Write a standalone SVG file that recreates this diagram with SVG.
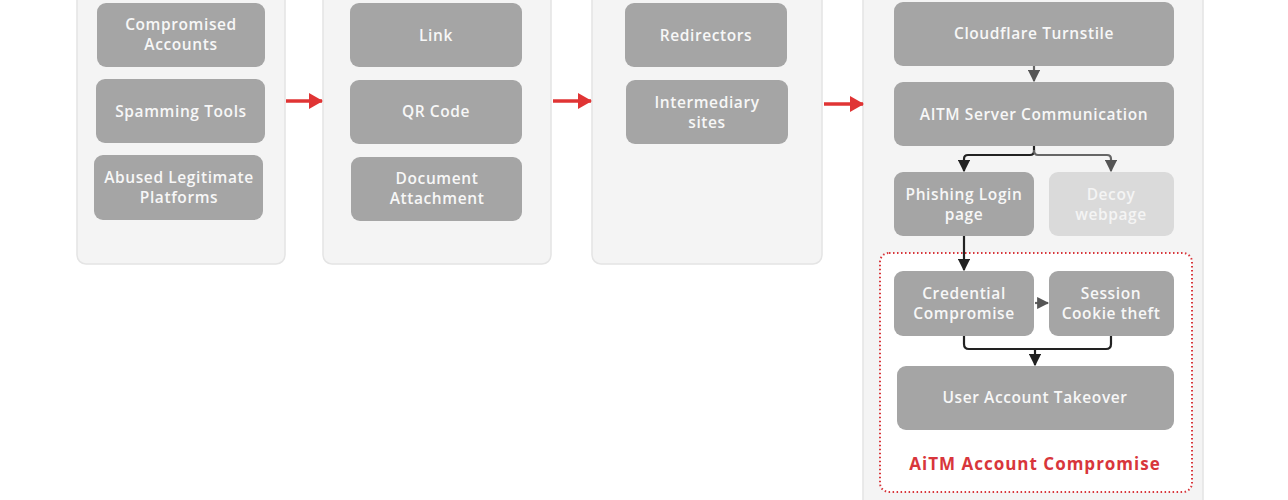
<svg xmlns="http://www.w3.org/2000/svg" width="1288" height="500" viewBox="0 0 1288 500">
<defs>
<style>
.panel{fill:#f4f4f4;stroke:#e4e4e4;stroke-width:1.5}
.node rect{fill:#a5a5a5}
.node text{fill:#f7f7f7;font-family:"Open Sans","DejaVu Sans",sans-serif;font-size:15.5px;font-weight:600;letter-spacing:0.6px;text-anchor:middle;dominant-baseline:central}
.decoy rect{fill:#dadada}
.decoy text{fill:#f4f4f4}
.red{stroke:#e03434;stroke-width:3.5;fill:none}
.blk{stroke:#222;stroke-width:2.2;fill:none}
.gry{stroke:#666;stroke-width:2.2;fill:none}
.title{fill:#d8363b;font-family:"Open Sans","DejaVu Sans",sans-serif;font-size:17px;font-weight:700;letter-spacing:1px;text-anchor:middle;dominant-baseline:central}
</style>
<marker id="ar" viewBox="0 0 14 16" refX="13" refY="8" markerWidth="14" markerHeight="16" orient="auto" markerUnits="userSpaceOnUse"><path d="M0,0 L14,8 L0,16 z" fill="#e03434"/></marker>
<marker id="ab" viewBox="0 0 10 10" refX="9" refY="5" markerWidth="5.5" markerHeight="5.5" orient="auto" markerUnits="strokeWidth"><path d="M0,0 L10,5 L0,10 z" fill="#222"/></marker>
<marker id="ag" viewBox="0 0 10 10" refX="9" refY="5" markerWidth="5.5" markerHeight="5.5" orient="auto" markerUnits="strokeWidth"><path d="M0,0 L10,5 L0,10 z" fill="#555"/></marker>
</defs>
<rect width="1288" height="500" fill="#ffffff"/>
<g id="panels">
<rect class="panel" x="77" y="-20" width="208" height="284" rx="9"/>
<rect class="panel" x="323" y="-20" width="228" height="284" rx="9"/>
<rect class="panel" x="592" y="-20" width="230" height="284" rx="9"/>
<rect class="panel" x="863" y="-20" width="340" height="540" rx="9"/>
</g>
<g id="group-box">
<rect x="880" y="253" width="312" height="239" rx="9" fill="#ffffff" stroke="#d8363b" stroke-width="2" stroke-dasharray="1.5 2.5"/>
<text class="title" x="1035" y="463">AiTM Account Compromise</text>
</g>
<g id="n-compromised" class="node"><rect x="97" y="3" width="168" height="64" rx="9"/><text x="181" y="24">Compromised</text><text x="181" y="44">Accounts</text></g>
<g id="n-spamming" class="node"><rect x="96" y="79" width="169" height="64" rx="9"/><text x="181" y="111">Spamming Tools</text></g>
<g id="n-abused" class="node"><rect x="94" y="155" width="169" height="65" rx="9"/><text x="179" y="177">Abused Legitimate</text><text x="179" y="197">Platforms</text></g>
<g id="n-link" class="node"><rect x="350" y="3" width="172" height="64" rx="9"/><text x="436" y="35">Link</text></g>
<g id="n-qr" class="node"><rect x="350" y="80" width="172" height="64" rx="9"/><text x="436" y="111">QR Code</text></g>
<g id="n-doc" class="node"><rect x="351" y="157" width="171" height="64" rx="9"/><text x="437" y="178">Document</text><text x="437" y="198">Attachment</text></g>
<g id="n-redirectors" class="node"><rect x="625" y="3" width="162" height="64" rx="9"/><text x="706" y="35">Redirectors</text></g>
<g id="n-intermediary" class="node"><rect x="626" y="80" width="162" height="64" rx="9"/><text x="707" y="102">Intermediary</text><text x="707" y="122">sites</text></g>
<g id="n-turnstile" class="node"><rect x="894" y="2" width="280" height="64" rx="9"/><text x="1034" y="33">Cloudflare Turnstile</text></g>
<g id="n-aitm" class="node"><rect x="894" y="82" width="280" height="64" rx="9"/><text x="1034" y="114">AITM Server Communication</text></g>
<g id="n-phishing" class="node"><rect x="894" y="172" width="140" height="64" rx="9"/><text x="964" y="194">Phishing Login</text><text x="964" y="214">page</text></g>
<g id="n-decoy" class="node decoy"><rect x="1049" y="172" width="125" height="64" rx="9"/><text x="1111" y="194">Decoy</text><text x="1111" y="214">webpage</text></g>
<g id="n-credential" class="node"><rect x="894" y="271" width="140" height="65" rx="9"/><text x="964" y="293">Credential</text><text x="964" y="313">Compromise</text></g>
<g id="n-session" class="node"><rect x="1049" y="271" width="125" height="65" rx="9"/><text x="1111" y="293">Session</text><text x="1111" y="313">Cookie theft</text></g>
<g id="n-takeover" class="node"><rect x="897" y="366" width="277" height="64" rx="9"/><text x="1035" y="397">User Account Takeover</text></g>
<g id="connectors">
<path class="red" d="M286,101 H322" marker-end="url(#ar)"/>
<path class="red" d="M553,101 H591" marker-end="url(#ar)"/>
<path class="red" d="M824,104 H863" marker-end="url(#ar)"/>
<path class="gry" d="M1034,66 V81" marker-end="url(#ag)"/>
<path class="blk" d="M1034,146 V151 Q1034,155 1030,155 H968 Q964,155 964,159 V171" marker-end="url(#ab)"/>
<path class="gry" d="M1034,150 Q1034,155 1038,155 H1107 Q1111,155 1111,159 V171" marker-end="url(#ag)"/>
<path class="blk" d="M964,236 V270" marker-end="url(#ab)"/>
<path class="gry" d="M1035,303 H1048" marker-end="url(#ag)"/>
<path class="blk" d="M964,336 V344 Q964,349 969,349 H1106 Q1111,349 1111,344 V336"/>
<path class="blk" d="M1035,349 V365" marker-end="url(#ab)"/>
</g>
</svg>
